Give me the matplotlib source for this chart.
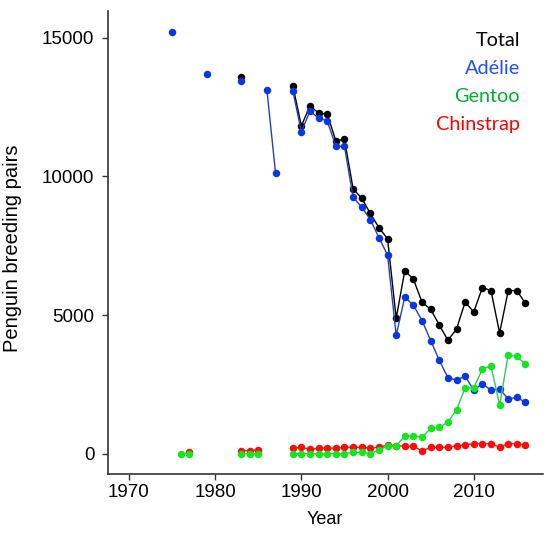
import numpy as np
import matplotlib
matplotlib.use("Agg")
import matplotlib.pyplot as plt

nan = np.nan
years = list(range(1975, 2017))

adelie = [15200, nan, nan, nan, 13700, nan, nan, nan, 13430, nan, nan, 13120, 10130, nan,
          13090, 11610, 12350, 12100, 12000, 11080, 11080, 9240, 8890, 8440, 7790, 7160,
          4270, 5650, 5350, 4800, 4080, 3370, 2740, 2650, 2800, 2290, 2520, 2290, 2330,
          1980, 2030, 1850]

total = [nan, nan, nan, nan, nan, nan, nan, nan, 13580, nan, nan, nan, nan, nan,
         13270, 11820, 12540, 12280, 12240, 11280, 11330, 9550, 9210, 8660, 8150, 7750,
         4880, 6600, 6290, 5460, 5210, 4640, 4090, 4490, 5470, 5110, 5990, 5880, 4350,
         5880, 5880, 5420]

gentoo = [nan, 0, 0, nan, nan, nan, nan, nan, 0, 0, 0, nan, nan, nan,
          0, 0, 0, 0, 0, 0, 0, 50, 50, 0, 140, 270,
          280, 640, 640, 590, 920, 950, 1140, 1580, 2370, 2370, 3050, 3170, 1750,
          3560, 3510, 3220]

chinstrap = [nan, nan, 60, nan, nan, nan, nan, nan, 100, 110, 140, nan, nan, nan,
             200, 230, 160, 200, 200, 200, 230, 230, 230, 200, 230, 310,
             290, 270, 270, 100, 230, 230, 230, 280, 320, 360, 360, 360, 230,
             360, 360, 310]

series_names = ["Total", "Adélie", "Gentoo", "Chinstrap"]
xticks = [1970, 1980, 1990, 2000, 2010]
yticks = [0, 5000, 10000, 15000]

fig = plt.figure(figsize=(5.54, 5.33), dpi=100)
ax = fig.add_axes([0.1955, 0.1101, 0.7841, 0.8693])

ms = 5.4
lw = 1.0
ax.plot(years, total, color="black", lw=lw, marker="o", ms=ms,
        mfc="black", mec="black", mew=0)
ax.plot(years, adelie, color="#2440b8", lw=lw, marker="o", ms=ms,
        mfc="#0a37e6", mec="#0a37e6", mew=0)
ax.plot(years, chinstrap, color="#ee2222", lw=lw, marker="o", ms=ms,
        mfc="#ff0a0a", mec="#ff0a0a", mew=0)
ax.plot(years, gentoo, color="#2ccc5a", lw=lw, marker="o", ms=ms,
        mfc="#12e61e", mec="#12e61e", mew=0)

ax.set_xlim(1967.6, 2018.0)
ax.set_ylim(-743, 15960)
ax.set_xticks(xticks)
ax.set_yticks(yticks)
for s in ["top", "right"]:
    ax.spines[s].set_visible(False)
for s in ["left", "bottom"]:
    ax.spines[s].set_color("#333333")
    ax.spines[s].set_linewidth(1.2)
ax.tick_params(axis="both", colors="#333333", length=4, width=1.0,
               labelsize=13.5, labelcolor="black")
ax.tick_params(axis="x", pad=3)
ax.tick_params(axis="y", pad=6)
for lab in ax.get_xticklabels() + ax.get_yticklabels():
    lab.set_fontfamily("Liberation Sans")

ax.set_xlabel("Year", fontsize=13, family="Liberation Sans")
ax.xaxis.label.set_va("baseline")
ax.xaxis.set_label_coords(0.4995, -0.108)
ax.set_ylabel("Penguin breeding pairs", fontsize=14.5, family="Liberation Sans")
ax.yaxis.set_label_coords(-0.198, 0.4885)

leg_colors = ["black", "#1f4fff", "#00b030", "#ff0000"]
leg_y_px = [46, 74, 102, 130]
for name, c, ypx in zip(series_names, leg_colors, leg_y_px):
    fig.text(520 / 554, 1 - ypx / 533, name, color=c, ha="right", va="baseline",
             fontsize=14.3, family="Lato")

fig.savefig("out.png", dpi=100)
